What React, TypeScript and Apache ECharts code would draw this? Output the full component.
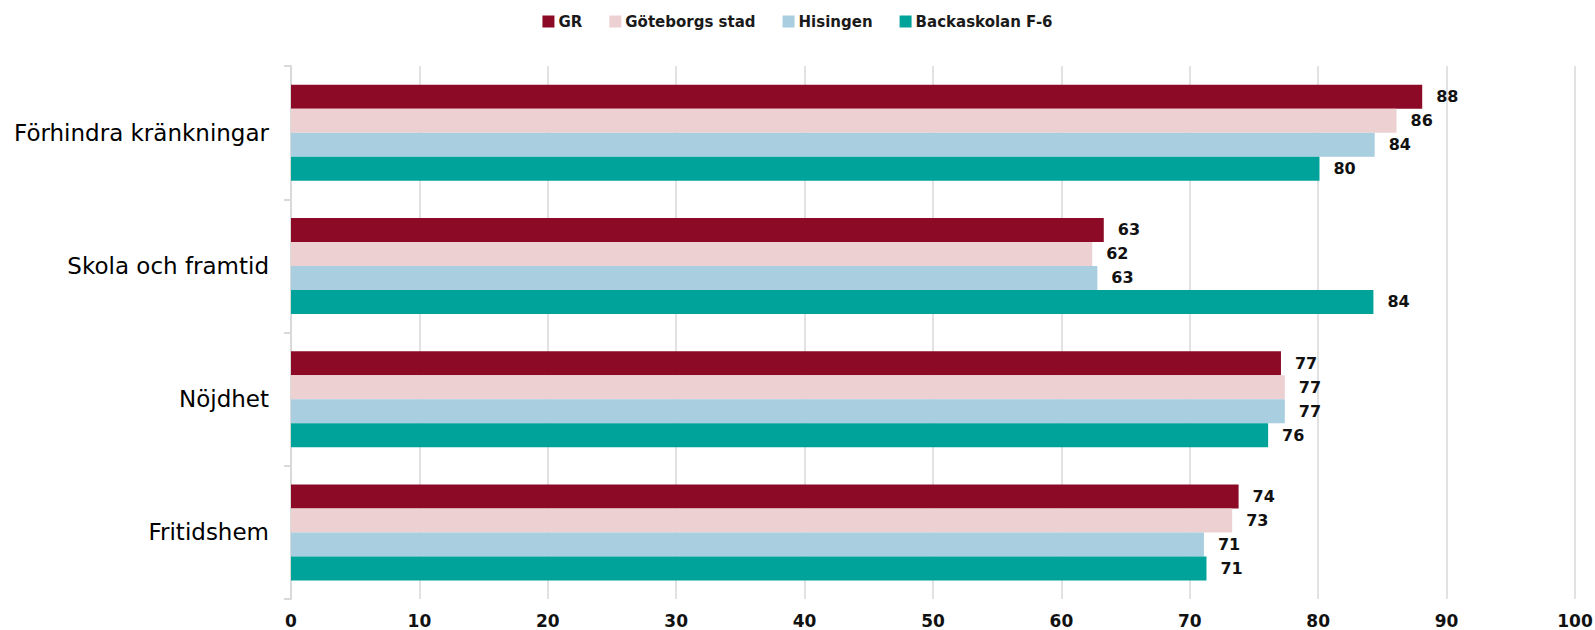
import React, { useEffect, useRef } from "react";
import * as echarts from "echarts";

const categories = ["Förhindra kränkningar", "Skola och framtid", "Nöjdhet", "Fritidshem"];
const seriesNames = ["GR", "Göteborgs stad", "Hisingen", "Backaskolan F-6"];
const grValues = [88.1, 63.3, 77.1, 73.8];
const goteborgValues = [86.1, 62.4, 77.4, 73.3];
const hisingenValues = [84.4, 62.8, 77.4, 71.1];
const backaValues = [80.1, 84.3, 76.1, 71.3];
const colors = ["#8C0A26", "#EDD1D2", "#A8CEE0", "#00A39A"];
const xTicks = { min: 0, max: 100, interval: 10 };

export default function App() {
  const ref = useRef<HTMLDivElement>(null);
  useEffect(() => {
    document.body.style.margin = "0";
    if (!ref.current) return;
    const chart = echarts.init(ref.current, null, { renderer: "svg" });
    const values = [grValues, goteborgValues, hisingenValues, backaValues];
    const font = "DejaVu Sans";
    chart.setOption({
      animation: false,
      backgroundColor: "#ffffff",
      legend: {
        top: 9,
        left: "center",
        itemWidth: 12,
        itemHeight: 12,
        itemGap: 27,
        icon: "rect",
        data: seriesNames,
        textStyle: { fontFamily: font, fontSize: 15, fontWeight: "bold", color: "#1a1a1a", padding: [0, 0, 0, -1] },
      },
      grid: { left: 291, right: 20, top: 66, bottom: 31, containLabel: false, outerBoundsMode: "none" },
      xAxis: {
        type: "value",
        min: xTicks.min,
        max: xTicks.max,
        interval: xTicks.interval,
        axisLine: { show: false },
        axisTick: { show: false },
        splitLine: { show: true, lineStyle: { color: "#E2E2E2", width: 2 } },
        axisLabel: { fontFamily: font, fontSize: 17, fontWeight: "bold", color: "#111", margin: 13 },
      },
      yAxis: {
        type: "category",
        data: categories,
        inverse: true,
        axisLine: { show: true, lineStyle: { color: "#D9D9D9", width: 2 } },
        axisTick: { show: true, length: 7, lineStyle: { color: "#D9D9D9", width: 2 } },
        axisLabel: { fontFamily: font, fontSize: 23, color: "#000", margin: 22 },
      },
      series: seriesNames.map((name, i) => ({
        name,
        type: "bar",
        data: values[i],
        barWidth: 24,
        barGap: "0%",
        itemStyle: { color: colors[i] },
        label: {
          show: true,
          position: "right",
          distance: 14,
          fontFamily: font,
          fontSize: 16,
          fontWeight: "bold",
          color: "#111",
          formatter: (p: any) => String(Math.round(p.value)),
        },
      })),
    });
    return () => chart.dispose();
  }, []);
  return <div ref={ref} style={{ width: 1595, height: 630 }} />;
}
